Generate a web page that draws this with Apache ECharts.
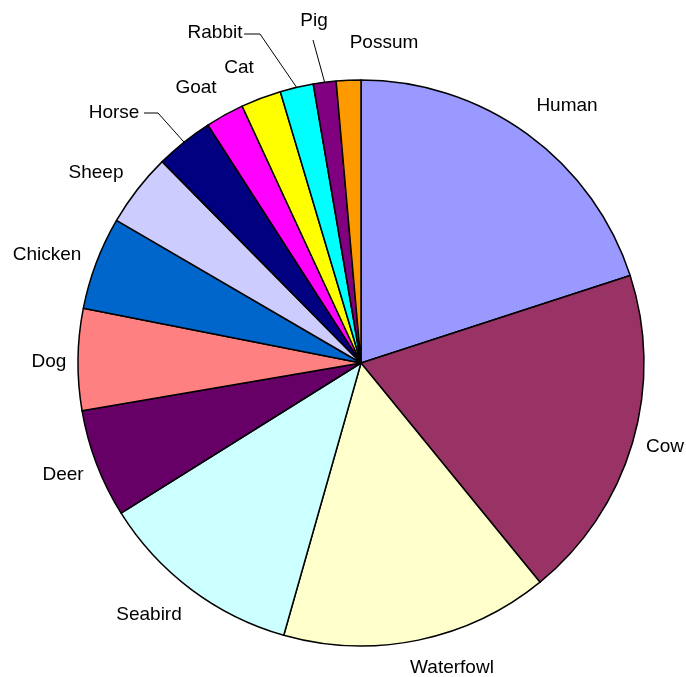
<!DOCTYPE html>
<html>
<head>
<meta charset="utf-8">
<script src="https://cdn.jsdelivr.net/npm/echarts@6/dist/echarts.min.js"></script>
<style>
html,body{margin:0;padding:0;background:#fff;}
#chart{width:686px;height:677px;}
</style>
</head>
<body>
<div id="chart"></div>
<script>
const categories = ['Human','Cow','Waterfowl','Seabird','Deer','Dog','Chicken','Sheep','Horse','Goat','Cat','Rabbit','Pig','Possum'];
const values = [20.0, 19.1, 15.3, 11.7, 6.2, 5.8, 5.3, 4.2, 3.3, 2.2, 2.3, 1.9, 1.3, 1.4];
const colors = ['#9999FF','#993366','#FFFFCC','#CCFFFF','#660066','#FF8080','#0066CC','#CCCCFF','#000080','#FF00FF','#FFFF00','#00FFFF','#800080','#FF9900'];
const withLeader = ['Horse','Rabbit','Pig'];

// label centres (styling/positions only)
const labelPos = {
  Human:[567,106], Cow:[665,447], Waterfowl:[452,668], Seabird:[149,615],
  Deer:[63,475], Dog:[49,362], Chicken:[47,255], Sheep:[96,173],
  Horse:[114,113], Goat:[196,88], Cat:[239,68], Rabbit:[215,33],
  Pig:[314,21], Possum:[384,43]
};
// leader line elbow/end points near labels
const leaderPts = {
  Horse:[[158,113],[144,113]],
  Rabbit:[[260,34],[244,34]],
  Pig:[[313,40],[313,40]]
};

const CX = 361, CY = 363, R = 283;
const total = values.reduce((a,b)=>a+b,0);
function edgePoint(i){
  let before = 0;
  for (let k=0;k<i;k++) before += values[k];
  const mid = (before + values[i]/2)/total*2*Math.PI;
  return [CX + R*Math.sin(mid), CY - R*Math.cos(mid)];
}

const chart = echarts.init(document.getElementById('chart'));
chart.setOption({
  backgroundColor:'#fff',
  animation:false,
  series:[{
    type:'pie',
    center:[CX,CY],
    radius:[0,R],
    startAngle:90,
    clockwise:true,
    avoidLabelOverlap:false,
    data: categories.map((c,i)=>({
      name:c, value:values[i],
      itemStyle:{color:colors[i]},
      labelLine:{show: withLeader.indexOf(c)>=0}
    })),
    itemStyle:{borderColor:'#000',borderWidth:1.5},
    label:{
      show:true, position:'outside', formatter:'{b}',
      color:'#000', fontFamily:'"Liberation Sans", Arial, sans-serif', fontSize:19
    },
    labelLine:{lineStyle:{color:'#000',width:1}, length:10, length2:10},
    emphasis:{disabled:true},
    labelLayout:function(p){
      const name = categories[p.dataIndex];
      const pos = labelPos[name];
      const out = {x:pos[0], y:pos[1], align:'center', verticalAlign:'middle'};
      if (leaderPts[name]) {
        const e = edgePoint(p.dataIndex);
        out.labelLinePoints = [e, leaderPts[name][0], leaderPts[name][1]];
      }
      return out;
    }
  }]
});
</script>
</body>
</html>
